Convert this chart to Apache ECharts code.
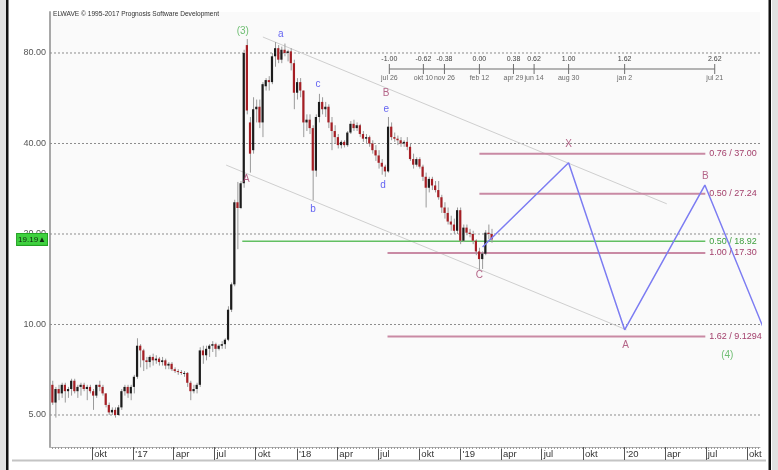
<!DOCTYPE html>
<html><head><meta charset="utf-8">
<script src="https://cdn.jsdelivr.net/npm/echarts@6/dist/echarts.min.js"></script>
<style>html,body{margin:0;padding:0;background:#fff}#c{width:778px;height:470px}</style>
</head><body><div id="c"></div>
<script>
// ---------- DATA ----------
const weekStart = '2016-07-04';
const open = [6.3,5.5,6.1,5.9,6.3,6.0,6.1,6.5,6.0,6.2,6.3,6.1,6.2,6.0,5.8,6.3,6.2,5.9,5.4,5.1,
5.2,5.0,5.3,6.0,6.2,5.9,6.2,6.7,8.5,8.2,7.6,7.5,7.8,7.6,7.7,7.5,7.6,7.3,7.4,7.1,
7.0,6.95,6.9,6.9,6.4,6.0,6.1,6.3,8.2,7.9,8.3,8.5,8.6,8.3,8.5,8.6,8.9,11.2,13.6,25.5,
24.4,29.5,85,47,38,52,53,47,62,65,64,78,83,76,82,80,81,74,59,64,
60,47,48,45,32.5,49,55,52,53,47,44,42,39.5,40.5,39.5,43.5,46.5,45,46,43,
41.5,42,40,38,36.5,34.5,33.5,32.3,45.5,42,41.5,41,40,40.5,39,35.5,34,35.5,33.5,31,
28.5,30.5,29,28,26.5,24.5,23.5,22,21.5,20.5,24,19,21,20.2,20,19,17.5,16.5,17.2,20.2,20];
const high = [6.5,6.2,6.3,6.4,6.4,6.2,6.6,6.6,6.3,6.4,6.4,6.3,6.3,6.1,6.3,6.5,6.3,5.9,5.5,5.3,
5.3,5.4,6.1,6.3,6.3,6.3,6.8,9.0,8.6,8.3,7.8,7.9,8.0,7.9,7.8,7.8,7.7,7.5,7.5,7.2,
7.1,7.05,7.0,6.95,6.5,6.3,6.4,8.4,8.5,8.5,8.6,8.8,8.7,8.6,8.8,9.0,11.5,13.8,26,29.8,
30,82,89,49,57,56,56,64,66,67,80,87,85,84,86,82,83,76,66,66,
60,50,50,46,50,58.5,57,55,54,49,46,43,41,41,44,47.5,48,47,46.5,44,
43,42.5,41,39.5,38,35.5,34,49,47,43.5,42.5,42,41,42,40,37,36,36,34,32,
31,31,30,30,27,25.5,24.5,23,22.5,24.5,24.5,21.5,21.5,20.8,20.5,19.2,18,17.5,20.6,21.5,20.8];
const low = [5.4,4.9,5.6,5.7,5.5,5.7,5.8,5.9,5.7,5.8,6.0,5.6,5.9,5.2,5.7,6.0,5.8,5.3,5.0,5.0,
4.9,5.0,5.2,5.8,5.7,5.6,5.9,6.6,7.2,7.0,7.1,7.2,7.3,7.4,7.3,7.3,7.1,7.1,7.0,6.9,
6.8,6.8,6.7,6.2,5.6,5.9,5.9,6.2,7.4,7.6,7.8,8.1,7.8,8.2,8.3,8.3,8.8,11.0,13.4,17.8,
24.2,28.5,50,32,37,47,45,42,60,60,63,72,74,74,78,75,70,52,56,57,
42,44,43,25.9,31,47,50,49,45,38,40,38.5,38.5,38.8,39,43,44,44,42,40.5,
40,39,37,35,33,31.5,31,32,41,40.5,39.5,39,39,38,35,33,33.5,33,30,24.5,
27.5,28,27.5,26,23.5,22.5,21.5,20.5,20,20,18.5,18.8,19.8,19.5,18.5,17,15.2,15.3,17,19.2,18.7];
const close = [5.5,6.1,5.9,6.3,6.0,6.1,6.5,6.0,6.2,6.3,6.1,6.2,6.0,5.8,6.3,6.2,5.9,5.4,5.1,5.2,
5.0,5.3,6.0,6.2,5.9,6.2,6.7,8.5,8.2,7.6,7.5,7.8,7.6,7.7,7.5,7.6,7.3,7.4,7.1,7.0,
6.95,6.9,6.9,6.4,6.0,6.1,6.3,8.2,7.9,8.3,8.5,8.6,8.3,8.5,8.6,8.9,11.2,13.6,25.5,24.4,
29.5,80,51.5,37,52,53,47,63,65,64,78,83,76,82,80,81,74,59,64,60,
47,48,45,32.5,49,55,52,53,47,44,42,39.5,40.5,39.5,43.5,46.5,45,46,43,41.5,
42,40,38,36.5,34.5,33.5,32.3,45.5,42,41.5,41,40,40.5,39,35.5,34,35.5,33.5,31,28.5,
30.5,29,28,26.5,24.5,23.5,22,21.5,20.5,24,19,21,20.2,20,19,17.5,16.5,17.2,20.2,20,19.19];

const yTicks = [5, 10, 20, 40, 80];
const quarterDates = ['2016-10-01','2017-01-01','2017-04-01','2017-07-01','2017-10-01','2018-01-01','2018-04-01','2018-07-01','2018-10-01','2019-01-01','2019-04-01','2019-07-01','2019-10-01','2020-01-01','2020-04-01','2020-07-01','2020-10-01'];
const quarterLabels = ['okt',"'17",'apr','jul','okt',"'18",'apr','jul','okt',"'19",'apr','jul','okt',"'20",'apr','jul','okt'];

const rulerDates = ['2018-07-26','2018-10-10','2018-11-26','2019-02-12','2019-04-29','2019-06-14','2019-08-30','2020-01-02','2020-07-21'];
const rulerRatios = ['-1.00','-0.62','-0.38','0.00','0.38','0.62','1.00','1.62','2.62'];
const rulerDateLabels = ['jul 26','okt 10','nov 26','feb 12','apr 29','jun 14','aug 30','jan 2','jul 21'];
const rulerLevel = 70.8;

const levelValues = [37.00, 27.24, 18.92, 17.30, 9.1294];
const levelLabels = ['0.76 / 37.00','0.50 / 27.24','0.50 / 18.92','1.00 / 17.30','1.62 / 9.1294'];
const levelStarts = ['2019-02-12','2019-02-12','2017-09-01','2018-07-22','2018-07-22'];
const levelKinds = ['fib','fib','green','fib','fib'];
const levelEnd = '2020-06-30';

const projDates = ['2019-02-19','2019-08-30','2020-01-02','2020-06-29','2020-11-12'];
const projValues = [18.1, 34.5, 9.6, 29.1, 9.3];

const upperChannelDates = ['2017-10-17','2020-04-05'];
const upperChannelValues = [90.4, 25.2];
const lowerChannelDates = ['2017-07-27','2020-01-06'];
const lowerChannelValues = [33.9, 9.6];

const waveText = ['(3)','a','A','b','c','B','e','d','C','X','A','B','(4)'];
const waveDates = ['2017-09-02','2017-11-26','2017-09-10','2018-02-06','2018-02-17','2018-07-19','2018-07-19','2018-07-12','2019-02-12','2019-08-30','2020-01-04','2020-06-30','2020-08-18'];
const waveValues = [94.7, 92.5, 30.3, 24.2, 63.1, 58.9, 52.1, 29.1, 14.6, 39.8, 8.55, 31.2, 7.9];
const waveKinds = ['g','b','m','b','b','m','b','b','m','m','m','m','g'];

// ---------- BUILD ----------
const DAY = 86400000;
const ts = s => Date.parse(s + 'T00:00:00Z');
const t0 = ts(weekStart);
const weeks = open.map((_, i) => t0 + i * 7 * DAY);
const xMin = ts('2016-06-29'), xMax = ts('2020-10-30');
const yMin = 3.913, yMax = 109.5;
const qTs = quarterDates.map(ts);
const weekTicks = [];
for (let t = t0 - 7 * DAY; t <= xMax; t += 7 * DAY) if (t >= xMin) weekTicks.push(t);

const FONT = 'Liberation Sans';
const MAROON_LINE = '#c98aa4', MAROON_TXT = '#a3406c';
const GREEN_LINE = '#62bf62', GREEN_TXT = '#3d9e3d';
const BLUE = '#7c7cf2';
const waveColor = {g: '#4caf50', b: '#3c3cf0', m: '#a3406c'};

const chart = echarts.init(document.getElementById('c'), null, {renderer: 'canvas'});

const series = [];
yTicks.forEach(v => series.push({
  type: 'line', silent: true, symbol: 'none', z: 1,
  data: [[xMin, v], [xMax, v]],
  lineStyle: {color: '#8c8c8c', width: 1, type: [2, 2]}
}));
series.push({type: 'line', silent: true, symbol: 'none', z: 2,
  data: upperChannelDates.map((d, i) => [ts(d), upperChannelValues[i]]),
  lineStyle: {color: '#cfcfcf', width: 1}});
series.push({type: 'line', silent: true, symbol: 'none', z: 2,
  data: lowerChannelDates.map((d, i) => [ts(d), lowerChannelValues[i]]),
  lineStyle: {color: '#cfcfcf', width: 1}});
levelValues.forEach((v, i) => {
  const g = levelKinds[i] === 'green';
  series.push({type: 'line', silent: true, symbol: 'none', z: 3,
    data: [[ts(levelStarts[i]), v], [ts(levelEnd), v]],
    lineStyle: {color: g ? GREEN_LINE : MAROON_LINE, width: g ? 1.5 : 2},
    endLabel: {show: true, formatter: levelLabels[i], distance: 4,
      color: g ? GREEN_TXT : MAROON_TXT, fontSize: 9, fontFamily: FONT}
  });
});
series.push({
  type: 'custom', z: 4,
  data: weeks.map((t, i) => [t, open[i], close[i], low[i], high[i]]),
  encode: {x: 0, y: [1, 2, 3, 4]},
  renderItem: function (params, api) {
    const x = api.value(0);
    const o = api.value(1), c = api.value(2), l = api.value(3), h = api.value(4);
    const pO = api.coord([x, o]), pC = api.coord([x, c]);
    const pL = api.coord([x, l]), pH = api.coord([x, h]);
    const up = c >= o;
    const top = Math.min(pO[1], pC[1]), bot = Math.max(pO[1], pC[1]);
    return {type: 'group', children: [
      {type: 'line', shape: {x1: pH[0] + 0.5, y1: pH[1], x2: pL[0] + 0.5, y2: pL[1]},
        style: {stroke: '#9a9a9a', lineWidth: 1}},
      {type: 'rect', shape: {x: pO[0] - 1, y: top, width: 2.2, height: Math.max(1, bot - top)},
        style: {fill: up ? '#1c1c1c' : '#a51e24'}}
    ]};
  }
});
series.push({type: 'line', silent: true, symbol: 'none', z: 5,
  data: projDates.map((d, i) => [ts(d), projValues[i]]),
  lineStyle: {color: BLUE, width: 1.5}});
series.push({type: 'line', silent: true, z: 5,
  data: rulerDates.map(d => [ts(d), rulerLevel]),
  symbol: 'rect', symbolSize: [1, 10], itemStyle: {color: '#6e6e6e'},
  lineStyle: {color: '#b3b3b3', width: 2},
  label: {show: true, position: 'top', distance: 1, fontSize: 7, fontFamily: FONT, color: '#444',
    formatter: p => rulerRatios[p.dataIndex]}});
series.push({type: 'scatter', silent: true, z: 5,
  data: rulerDates.map(d => [ts(d), rulerLevel]),
  symbolSize: 1, itemStyle: {color: 'rgba(0,0,0,0)'},
  label: {show: true, position: 'bottom', distance: 5, fontSize: 7, fontFamily: FONT, color: '#444',
    formatter: p => rulerDateLabels[p.dataIndex]}});
series.push({type: 'scatter', silent: true, z: 6,
  data: waveDates.map((d, i) => ({value: [ts(d), waveValues[i]],
    label: {color: waveColor[waveKinds[i]]}})),
  symbolSize: 1, itemStyle: {color: 'rgba(0,0,0,0)'},
  label: {show: true, position: 'inside', fontSize: 10, fontFamily: FONT,
    formatter: p => waveText[p.dataIndex]}});

const lastClose = close[close.length - 1];

chart.setOption({
  animation: false,
  backgroundColor: '#ffffff',
  textStyle: {fontFamily: FONT},
  grid: {left: 50, right: 18, top: 12, bottom: 23, show: true, backgroundColor: '#fafafa', borderWidth: 0},
  xAxis: [{
    type: 'value', min: xMin, max: xMax, position: 'bottom',
    axisLine: {show: true, lineStyle: {color: '#b0b0b0', width: 1}},
    axisTick: {show: true, customValues: qTs, length: 13, lineStyle: {color: '#555', width: 1}},
    axisLabel: {customValues: qTs, align: 'left', padding: [0, 0, 0, 2], margin: 2,
      fontSize: 9.5, color: '#333', fontFamily: FONT,
      formatter: v => { const k = qTs.indexOf(v); return k >= 0 ? quarterLabels[k] : ''; }},
    splitLine: {show: false}
  }, {
    type: 'value', min: xMin, max: xMax, position: 'bottom',
    axisLine: {show: false},
    axisTick: {show: true, customValues: weekTicks, length: 2, lineStyle: {color: '#9a9a9a'}},
    axisLabel: {show: false}, splitLine: {show: false}
  }],
  yAxis: [{
    type: 'log', logBase: 10, min: yMin, max: yMax, position: 'left',
    axisLine: {show: true, lineStyle: {color: '#a8a8a8', width: 2}},
    axisTick: {show: false, customValues: yTicks},
    axisLabel: {customValues: yTicks, formatter: v => Number(v).toFixed(2),
      fontSize: 9, color: '#555', margin: 4, fontFamily: FONT},
    splitLine: {show: false}
  }, {
    type: 'log', logBase: 10, min: yMin, max: yMax, position: 'left',
    axisLine: {show: false}, axisTick: {show: false}, splitLine: {show: false},
    axisLabel: {customValues: [lastClose], formatter: () => lastClose.toFixed(2) + '▲',
      fontSize: 8, color: '#0f2a0f', margin: 3, fontFamily: FONT,
      backgroundColor: '#3fd13f', borderColor: '#22a022', borderWidth: 1, padding: [2, 1, 1, 1]}
  }],
  graphic: [
    {type: 'rect', shape: {x: 0, y: 0, width: 6, height: 470}, style: {fill: '#e1e1e1'}, silent: true},
    {type: 'rect', shape: {x: 772, y: 0, width: 6, height: 470}, style: {fill: '#e1e1e1'}, silent: true},
    {type: 'rect', shape: {x: 6, y: 0, width: 2.5, height: 470}, style: {fill: '#111'}, silent: true},
    {type: 'rect', shape: {x: 768.5, y: 0, width: 2.5, height: 470}, style: {fill: '#111'}, silent: true},
    {type: 'line', shape: {x1: 12, y1: 460.5, x2: 766, y2: 460.5}, style: {stroke: '#c4c4c4', lineWidth: 2}, silent: true},
    {type: 'text', x: 53, y: 11, silent: true,
      style: {text: 'ELWAVE © 1995-2017 Prognosis Software Development', font: '6.6px "Liberation Sans"', fill: '#333'}}
  ],
  series: series
});
</script></body></html>
